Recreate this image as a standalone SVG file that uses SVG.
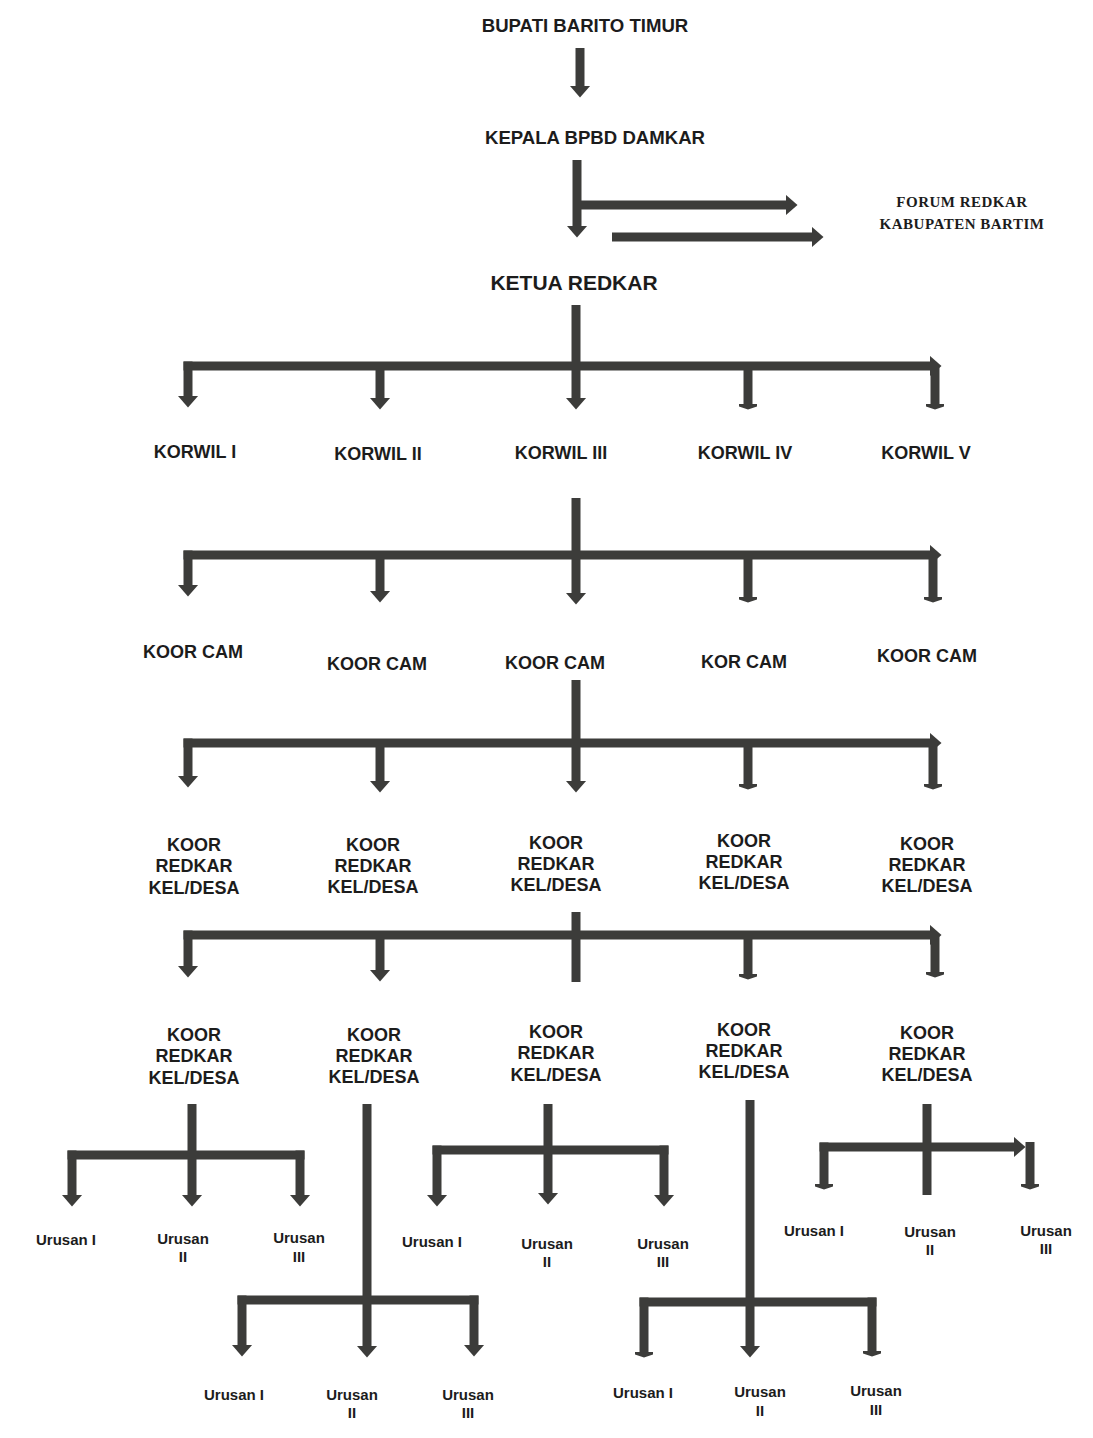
<svg xmlns="http://www.w3.org/2000/svg" width="1093" height="1438" viewBox="0 0 1093 1438">
<style>
.t{font-family:"Liberation Sans",Arial,sans-serif;font-weight:bold;font-size:18px;fill:#1c1c1c;text-anchor:middle}
.k{font-size:21px}
.h{font-size:18.6px}
.u{font-size:15px}
.f{font-family:"Liberation Serif","Times New Roman",serif;font-weight:bold;font-size:15px;letter-spacing:0.5px;fill:#1c1c1c;text-anchor:middle}
.c{fill:none;stroke:#3c3c3a;stroke-width:9;stroke-linecap:butt;stroke-linejoin:miter}
.a{marker-end:url(#ah)}
.o{marker-end:url(#ft)}
</style>
<defs>
<marker id="ah" markerUnits="userSpaceOnUse" markerWidth="12" markerHeight="21" viewBox="0 0 12 21" refX="0.5" refY="10.5" orient="auto"><path d="M0,0 L12,10.5 L0,21 Z" fill="#3c3c3a"/></marker>
<marker id="ft" markerUnits="userSpaceOnUse" markerWidth="6" markerHeight="18" viewBox="0 0 6 18" refX="0.5" refY="9" orient="auto"><path d="M0,0 L3,0 L6,9 L3,18 L0,18 Z" fill="#3c3c3a"/></marker>
</defs>
<rect width="1093" height="1438" fill="#ffffff"/>
<g id="connectors">
<path class="c a" d="M580,48 V86"/>
<path class="c a" d="M577,160 V226"/>
<path class="c a" d="M581,205 H786"/>
<path class="c a" d="M612,237 H812"/>
<!-- level 1 -->
<path class="c a" d="M576,305 V398"/>
<path class="c a" d="M183.5,366 H930"/>
<path class="c a" d="M188,361.5 V396"/>
<path class="c a" d="M380,366 V398"/>
<path class="c o" d="M748,366 V404"/>
<path class="c o" d="M935,366 V404"/>
<!-- level 2 -->
<path class="c a" d="M576,498 V593"/>
<path class="c a" d="M183.5,555 H930"/>
<path class="c a" d="M188,550.5 V585"/>
<path class="c a" d="M380,555 V591"/>
<path class="c o" d="M748,555 V597"/>
<path class="c o" d="M933,555 V597"/>
<!-- level 3 -->
<path class="c a" d="M576,680 V781"/>
<path class="c a" d="M183.5,743 H930"/>
<path class="c a" d="M188,738.5 V776"/>
<path class="c a" d="M380,743 V781"/>
<path class="c o" d="M748,743 V784"/>
<path class="c o" d="M933,743 V784"/>
<!-- level 4 -->
<path class="c" d="M576,912 V982"/>
<path class="c a" d="M183.5,935 H930"/>
<path class="c a" d="M188,930.5 V966"/>
<path class="c a" d="M380,935 V970"/>
<path class="c o" d="M748,935 V974"/>
<path class="c o" d="M935,935 V972"/>
<!-- level 5 node 1 -->
<path class="c" d="M67.5,1155 H304.5"/>
<path class="c a" d="M72,1150.5 V1195"/>
<path class="c a" d="M192,1104 V1195"/>
<path class="c a" d="M300,1150.5 V1195"/>
<!-- node 2 -->
<path class="c a" d="M367,1104 V1346"/>
<path class="c" d="M237.5,1300 H478.5"/>
<path class="c a" d="M242,1295.5 V1345"/>
<path class="c a" d="M474,1295.5 V1345"/>
<!-- node 3 -->
<path class="c" d="M432.5,1150 H668.5"/>
<path class="c a" d="M548,1104 V1193"/>
<path class="c a" d="M437,1145.5 V1195"/>
<path class="c a" d="M664,1145.5 V1195"/>
<!-- node 4 -->
<path class="c a" d="M750,1100 V1346"/>
<path class="c" d="M639.5,1302 H876.5"/>
<path class="c o" d="M644,1297.5 V1352"/>
<path class="c o" d="M872,1297.5 V1351"/>
<!-- node 5 -->
<path class="c" d="M927,1104 V1195"/>
<path class="c a" d="M819.5,1147 H1014"/>
<path class="c o" d="M824,1142.5 V1184"/>
<path class="c o" d="M1030,1142 V1184"/>
</g>
<g id="bupati"><text class="t h" x="585" y="32">BUPATI BARITO TIMUR</text></g>
<g id="kepala"><text class="t h" x="595" y="144">KEPALA BPBD DAMKAR</text></g>
<g id="forum"><text class="f" x="962" y="207">FORUM REDKAR</text><text class="f" x="962" y="229">KABUPATEN BARTIM</text></g>
<g id="ketua"><text class="t k" x="574" y="290">KETUA REDKAR</text></g>
<g id="korwil1"><text class="t" x="195" y="458">KORWIL I</text></g>
<g id="korwil2"><text class="t" x="378" y="460">KORWIL II</text></g>
<g id="korwil3"><text class="t" x="561" y="459">KORWIL III</text></g>
<g id="korwil4"><text class="t" x="745" y="459">KORWIL IV</text></g>
<g id="korwil5"><text class="t" x="926" y="459">KORWIL V</text></g>
<g id="koorcam1"><text class="t" x="193" y="658">KOOR CAM</text></g>
<g id="koorcam2"><text class="t" x="377" y="670">KOOR CAM</text></g>
<g id="koorcam3"><text class="t" x="555" y="669">KOOR CAM</text></g>
<g id="koorcam4"><text class="t" x="744" y="668">KOR CAM</text></g>
<g id="koorcam5"><text class="t" x="927" y="662">KOOR CAM</text></g>
<g id="keldesa1"><text class="t" x="194" y="851">KOOR</text><text class="t" x="194" y="872">REDKAR</text><text class="t" x="194" y="894">KEL/DESA</text></g>
<g id="keldesa2"><text class="t" x="373" y="851">KOOR</text><text class="t" x="373" y="872">REDKAR</text><text class="t" x="373" y="893">KEL/DESA</text></g>
<g id="keldesa3"><text class="t" x="556" y="849">KOOR</text><text class="t" x="556" y="870">REDKAR</text><text class="t" x="556" y="891">KEL/DESA</text></g>
<g id="keldesa4"><text class="t" x="744" y="847">KOOR</text><text class="t" x="744" y="868">REDKAR</text><text class="t" x="744" y="889">KEL/DESA</text></g>
<g id="keldesa5"><text class="t" x="927" y="850">KOOR</text><text class="t" x="927" y="871">REDKAR</text><text class="t" x="927" y="892">KEL/DESA</text></g>
<g id="keldesa6"><text class="t" x="194" y="1041">KOOR</text><text class="t" x="194" y="1062">REDKAR</text><text class="t" x="194" y="1084">KEL/DESA</text></g>
<g id="keldesa7"><text class="t" x="374" y="1041">KOOR</text><text class="t" x="374" y="1062">REDKAR</text><text class="t" x="374" y="1083">KEL/DESA</text></g>
<g id="keldesa8"><text class="t" x="556" y="1038">KOOR</text><text class="t" x="556" y="1059">REDKAR</text><text class="t" x="556" y="1081">KEL/DESA</text></g>
<g id="keldesa9"><text class="t" x="744" y="1036">KOOR</text><text class="t" x="744" y="1057">REDKAR</text><text class="t" x="744" y="1078">KEL/DESA</text></g>
<g id="keldesa10"><text class="t" x="927" y="1039">KOOR</text><text class="t" x="927" y="1060">REDKAR</text><text class="t" x="927" y="1081">KEL/DESA</text></g>
<g id="urusan1a"><text class="t u" x="66" y="1245">Urusan I</text></g>
<g id="urusan2a"><text class="t u" x="183" y="1244">Urusan</text><text class="t u" x="183" y="1262">II</text></g>
<g id="urusan3a"><text class="t u" x="299" y="1243">Urusan</text><text class="t u" x="299" y="1262">III</text></g>
<g id="urusan1b"><text class="t u" x="234" y="1400">Urusan I</text></g>
<g id="urusan2b"><text class="t u" x="352" y="1400">Urusan</text><text class="t u" x="352" y="1418">II</text></g>
<g id="urusan3b"><text class="t u" x="468" y="1400">Urusan</text><text class="t u" x="468" y="1418">III</text></g>
<g id="urusan1c"><text class="t u" x="432" y="1247">Urusan I</text></g>
<g id="urusan2c"><text class="t u" x="547" y="1249">Urusan</text><text class="t u" x="547" y="1267">II</text></g>
<g id="urusan3c"><text class="t u" x="663" y="1249">Urusan</text><text class="t u" x="663" y="1267">III</text></g>
<g id="urusan1d"><text class="t u" x="643" y="1398">Urusan I</text></g>
<g id="urusan2d"><text class="t u" x="760" y="1397">Urusan</text><text class="t u" x="760" y="1416">II</text></g>
<g id="urusan3d"><text class="t u" x="876" y="1396">Urusan</text><text class="t u" x="876" y="1415">III</text></g>
<g id="urusan1e"><text class="t u" x="814" y="1236">Urusan I</text></g>
<g id="urusan2e"><text class="t u" x="930" y="1237">Urusan</text><text class="t u" x="930" y="1255">II</text></g>
<g id="urusan3e"><text class="t u" x="1046" y="1236">Urusan</text><text class="t u" x="1046" y="1254">III</text></g>
</svg>
